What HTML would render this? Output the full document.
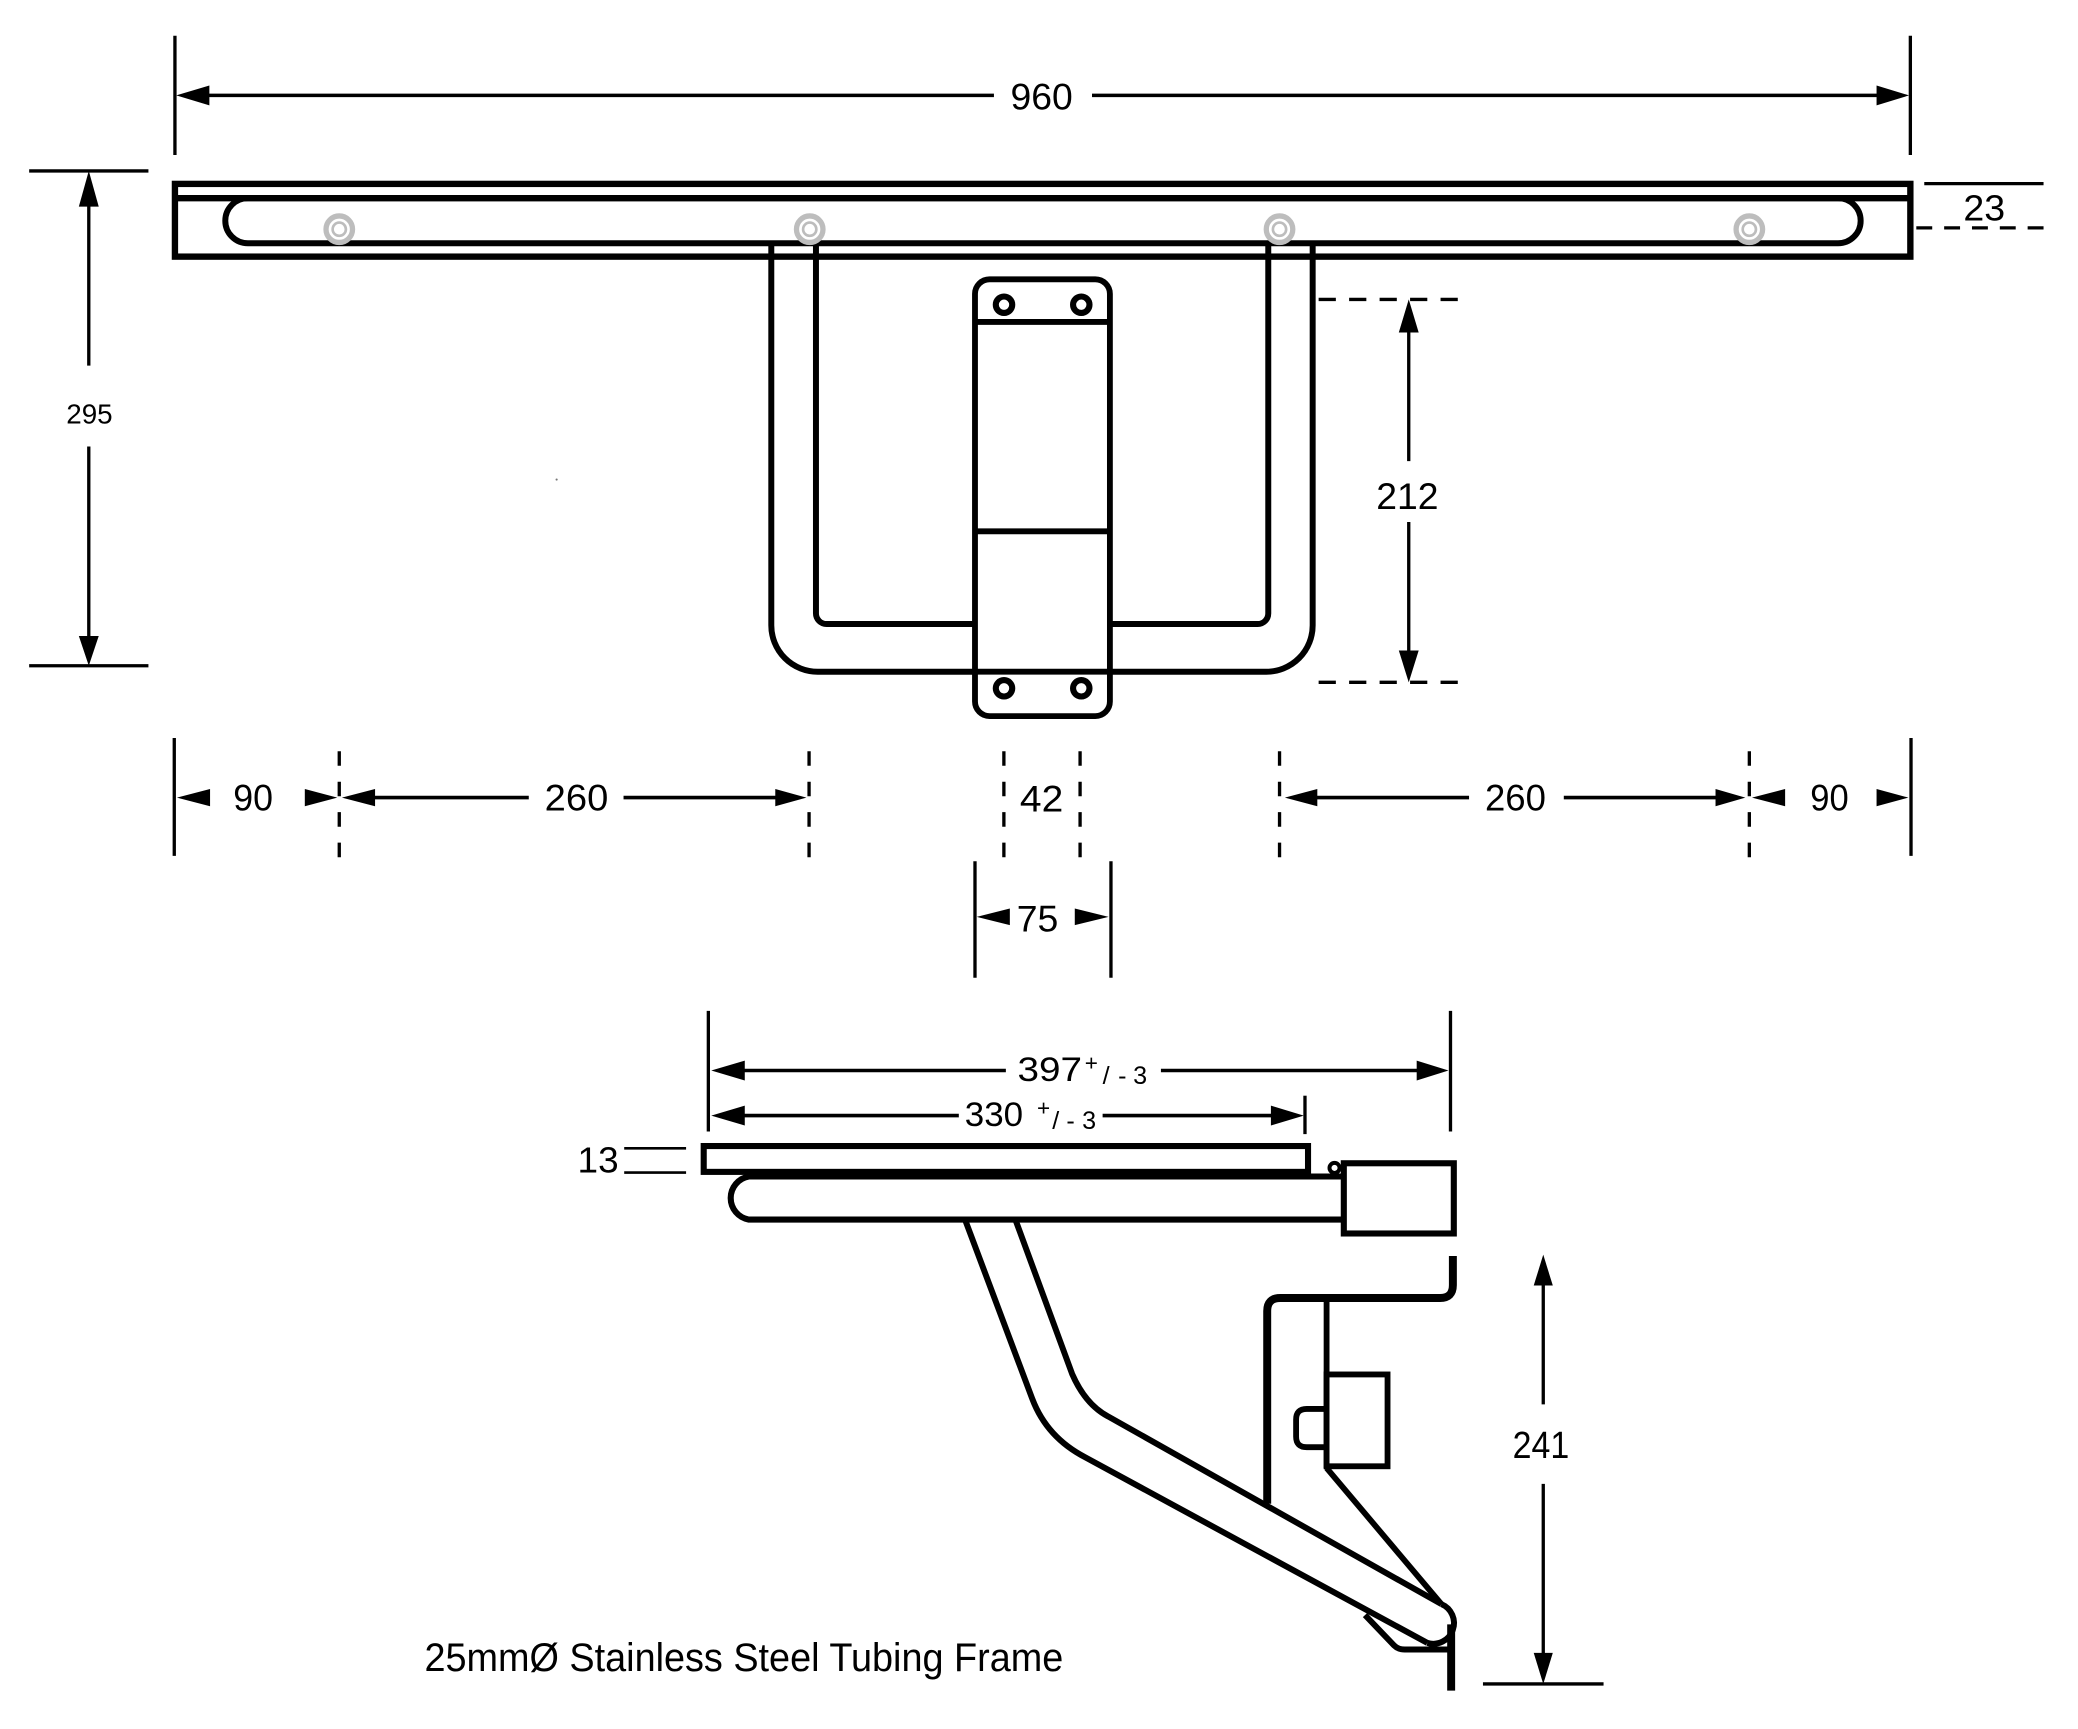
<!DOCTYPE html>
<html>
<head>
<meta charset="utf-8">
<style>
  html, body { margin: 0; padding: 0; background: #fff; }
  svg { display: block; }
  text { font-family: "Liberation Sans", sans-serif; fill: #000; }
</style>
</head>
<body>
<svg width="2078" height="1729" viewBox="0 0 1568 1305" preserveAspectRatio="none" xmlns="http://www.w3.org/2000/svg">
<rect x="0" y="0" width="1568" height="1305" fill="#fff"/>

<!-- ================= TOP VIEW ================= -->
<g stroke="#000" fill="none" stroke-linecap="butt">
  <!-- 960 dimension -->
  <line x1="132" y1="27" x2="132" y2="117" stroke-width="2.5"/>
  <line x1="1441.5" y1="27" x2="1441.5" y2="117" stroke-width="2.5"/>
  <line x1="150" y1="72" x2="750" y2="72" stroke-width="2.7"/>
  <line x1="824" y1="72" x2="1425" y2="72" stroke-width="2.7"/>

  <!-- 295 dimension -->
  <line x1="22" y1="129" x2="112" y2="129" stroke-width="2.5"/>
  <line x1="22" y1="502.5" x2="112" y2="502.5" stroke-width="2.5"/>
  <line x1="67" y1="150" x2="67" y2="276" stroke-width="2.5"/>
  <line x1="67" y1="337" x2="67" y2="485" stroke-width="2.5"/>

  <!-- Bar -->
  <rect x="132" y="138.8" width="1309.5" height="54.9" stroke-width="4.8"/>
  <line x1="132" y1="149.6" x2="1441.5" y2="149.6" stroke-width="4.8"/>
  <rect x="170" y="149.6" width="1234" height="34" rx="17" ry="17" stroke-width="4.5"/>

  <!-- U frame -->
  <path d="M582,183.5 V472 A35,35 0 0 0 617,507 H736" stroke-width="4.5"/>
  <path d="M990.5,183.5 V472 A35,35 0 0 1 955.5,507 H837" stroke-width="4.5"/>
  <path d="M615.7,183.5 V463 A8,8 0 0 0 623.7,471 H736" stroke-width="4.5"/>
  <path d="M957,183.5 V463 A8,8 0 0 1 949,471 H837" stroke-width="4.5"/>

  <!-- Plate -->
  <rect x="735.7" y="210.8" width="101.8" height="329.7" rx="11" ry="11" stroke-width="4.4" fill="#fff"/>
  <line x1="735.7" y1="243" x2="837.5" y2="243" stroke-width="4.4"/>
  <line x1="735.7" y1="401" x2="837.5" y2="401" stroke-width="4.4"/>
  <line x1="735.7" y1="507" x2="837.5" y2="507" stroke-width="4.4"/>
  <circle cx="757.6" cy="230" r="6.2" stroke-width="4.6"/>
  <circle cx="815.9" cy="230" r="6.2" stroke-width="4.6"/>
  <circle cx="757.6" cy="519.5" r="6.2" stroke-width="4.6"/>
  <circle cx="815.9" cy="519.5" r="6.2" stroke-width="4.6"/>

  <!-- 23 dimension -->
  <line x1="1452" y1="138.6" x2="1542" y2="138.6" stroke-width="2.5"/>
  <line x1="1446" y1="172" x2="1542" y2="172" stroke-width="2.5" stroke-dasharray="12 9"/>

  <!-- 212 dimension -->
  <line x1="995" y1="226" x2="1109" y2="226" stroke-width="2.5" stroke-dasharray="13 10"/>
  <line x1="995" y1="515" x2="1109" y2="515" stroke-width="2.5" stroke-dasharray="13 10"/>
  <line x1="1063" y1="245" x2="1063" y2="348" stroke-width="2.5"/>
  <line x1="1063" y1="394" x2="1063" y2="496" stroke-width="2.5"/>

  <!-- Row dimension line extension lines -->
  <line x1="131.5" y1="557" x2="131.5" y2="646" stroke-width="2.5"/>
  <line x1="1442" y1="557" x2="1442" y2="646" stroke-width="2.5"/>
  <g stroke-width="2.5" stroke-dasharray="11 12">
    <line x1="256" y1="567" x2="256" y2="647"/>
    <line x1="610.5" y1="567" x2="610.5" y2="647"/>
    <line x1="757.5" y1="567" x2="757.5" y2="647"/>
    <line x1="815" y1="567" x2="815" y2="647"/>
    <line x1="965.5" y1="567" x2="965.5" y2="647"/>
    <line x1="1320" y1="567" x2="1320" y2="647"/>
  </g>
  <line x1="275" y1="602" x2="399" y2="602" stroke-width="2.7"/>
  <line x1="470.5" y1="602" x2="592" y2="602" stroke-width="2.7"/>
  <line x1="986" y1="602" x2="1108.5" y2="602" stroke-width="2.7"/>
  <line x1="1180" y1="602" x2="1300" y2="602" stroke-width="2.7"/>

  <!-- 75 -->
  <line x1="735.7" y1="650" x2="735.7" y2="738" stroke-width="2.5"/>
  <line x1="838.3" y1="650" x2="838.3" y2="738" stroke-width="2.5"/>
</g>

<!-- screws -->
<g fill="#fff" stroke="#bdbdbd">
  <circle cx="256" cy="173" r="10" stroke-width="4"/>
  <circle cx="256" cy="173" r="5" stroke-width="2"/>
  <circle cx="611" cy="173" r="10" stroke-width="4"/>
  <circle cx="611" cy="173" r="5" stroke-width="2"/>
  <circle cx="965.5" cy="173" r="10" stroke-width="4"/>
  <circle cx="965.5" cy="173" r="5" stroke-width="2"/>
  <circle cx="1320" cy="173" r="10" stroke-width="4"/>
  <circle cx="1320" cy="173" r="5" stroke-width="2"/>
</g>
<circle cx="420" cy="362" r="0.8" fill="#777"/>

<!-- arrowheads top view -->
<g fill="#000" stroke="none">
  <polygon points="133,72 158,64.5 158,79.5"/>
  <polygon points="1440.5,72 1416,64.5 1416,79.5"/>
  <polygon points="67,129 59.5,156 74.5,156"/>
  <polygon points="67,502.5 59.5,480 74.5,480"/>
  <polygon points="1063,226 1055.5,251 1070.5,251"/>
  <polygon points="1063,515 1055.5,491 1070.5,491"/>
  <!-- row -->
  <polygon points="133.5,602 158.5,595.5 158.5,608.5"/>
  <polygon points="254.5,602 230,595.5 230,608.5"/>
  <polygon points="258,602 283,595.5 283,608.5"/>
  <polygon points="608.5,602 585,595.5 585,608.5"/>
  <polygon points="969.5,602 994,595.5 994,608.5"/>
  <polygon points="1317,602 1294.5,595.5 1294.5,608.5"/>
  <polygon points="1322,602 1347,595.5 1347,608.5"/>
  <polygon points="1440,602 1416,595.5 1416,608.5"/>
  <polygon points="737,692 762,685.7 762,698.3"/>
  <polygon points="836.5,692 811,685.7 811,698.3"/>
</g>

<!-- top view labels -->
<text x="762.5" y="82.5" font-size="28" textLength="47" lengthAdjust="spacingAndGlyphs">960</text>
<text x="50" y="319.5" font-size="21" textLength="35" lengthAdjust="spacingAndGlyphs">295</text>
<text x="1481.5" y="166.3" font-size="27" textLength="31.5" lengthAdjust="spacingAndGlyphs">23</text>
<text x="1038.5" y="384" font-size="28" textLength="47" lengthAdjust="spacingAndGlyphs">212</text>
<text x="176" y="611.7" font-size="28" textLength="30" lengthAdjust="spacingAndGlyphs">90</text>
<text x="411" y="611.7" font-size="28" textLength="48" lengthAdjust="spacingAndGlyphs">260</text>
<text x="769.6" y="612.4" font-size="28" textLength="32.7" lengthAdjust="spacingAndGlyphs">42</text>
<text x="1120.5" y="611.7" font-size="28" textLength="46" lengthAdjust="spacingAndGlyphs">260</text>
<text x="1366" y="611.7" font-size="28" textLength="29" lengthAdjust="spacingAndGlyphs">90</text>
<text x="767.2" y="703" font-size="28" textLength="31.4" lengthAdjust="spacingAndGlyphs">75</text>

<!-- ================= SIDE VIEW ================= -->
<g stroke="#000" fill="none">
  <!-- 397 / 330 dims -->
  <line x1="534.5" y1="763" x2="534.5" y2="854" stroke-width="2.5"/>
  <line x1="1094.5" y1="763" x2="1094.5" y2="854" stroke-width="2.5"/>
  <line x1="984.7" y1="827" x2="984.7" y2="856" stroke-width="2.5"/>
  <line x1="555" y1="808" x2="759" y2="808" stroke-width="2.7"/>
  <line x1="876" y1="808" x2="1072" y2="808" stroke-width="2.7"/>
  <line x1="555" y1="842" x2="723.5" y2="842" stroke-width="2.7"/>
  <line x1="832" y1="842" x2="962" y2="842" stroke-width="2.7"/>

  <!-- 13 -->
  <line x1="471" y1="866.7" x2="517.7" y2="866.7" stroke-width="2"/>
  <line x1="471" y1="885" x2="517.7" y2="885" stroke-width="2"/>

  <!-- plank -->
  <rect x="531" y="865" width="456" height="19.5" stroke-width="4.6"/>
  <!-- tube -->
  <path d="M1014,888 H565 A16.5,16.5 0 0 0 565,920.5 H1014" stroke-width="4.6"/>
  <circle cx="1007" cy="881.5" r="3.8" stroke-width="3"/>
  <!-- block -->
  <rect x="1014" y="878" width="83" height="53" stroke-width="4.6" fill="#fff"/>

  <!-- diagonal tube -->
  <path d="M728,920 L779,1056 Q790,1085 819,1100 L1077,1240" stroke-width="4.5"/>
  <path d="M766,920 L809,1037 Q819,1060 836,1069 L1087.6,1210.7" stroke-width="4.5"/>
  <path d="M1087.6,1210.7 A15.6,15.6 0 0 1 1077,1240" stroke-width="4.5"/>

  <!-- wall bracket -->
  <path d="M1096.3,948 V970 Q1096.3,979.7 1086.6,979.7 H966 Q956.2,979.7 956.2,989.5 V1135" stroke-width="6"/>
  <line x1="1001" y1="982" x2="1001" y2="1108" stroke-width="4.4"/>
  <line x1="1001" y1="1108" x2="1087.6" y2="1210.7" stroke-width="4.4"/>
  <rect x="1001" y="1037.4" width="46" height="69.3" stroke-width="4.4"/>
  <path d="M1001,1063.4 H986 Q978,1063.4 978,1071.4 V1084.3 Q978,1092.3 986,1092.3 H1001" stroke-width="4.4"/>
  <line x1="1095" y1="1226" x2="1095" y2="1276" stroke-width="6"/>
  <path d="M1030,1219 L1052,1242 Q1055,1245 1060,1245 H1095" stroke-width="4.5"/>

  <!-- 241 -->
  <line x1="1164.5" y1="965" x2="1164.5" y2="1060" stroke-width="2.5"/>
  <line x1="1164.5" y1="1120" x2="1164.5" y2="1252" stroke-width="2.5"/>
  <line x1="1119" y1="1271" x2="1210" y2="1271" stroke-width="2.5"/>
</g>

<g fill="#000" stroke="none">
  <polygon points="536.7,808 562,800.5 562,815.5"/>
  <polygon points="1093,808 1069,800.5 1069,815.5"/>
  <polygon points="536.7,842 562,834.5 562,849.5"/>
  <polygon points="983.8,842 959,834.5 959,849.5"/>
  <polygon points="1164.5,947 1157.3,970.3 1171.7,970.3"/>
  <polygon points="1164.5,1271 1157.3,1247.5 1171.7,1247.5"/>
</g>

<!-- side view labels -->
<text x="767.8" y="816" font-size="26" textLength="48.7" lengthAdjust="spacingAndGlyphs">397</text>
<text x="818.5" y="808" font-size="17">+</text>
<text x="832" y="818" font-size="19" textLength="18" lengthAdjust="spacing">/-</text>
<text x="855" y="818" font-size="19">3</text>

<text x="728" y="850" font-size="26" textLength="44" lengthAdjust="spacingAndGlyphs">330</text>
<text x="782.5" y="842" font-size="17">+</text>
<text x="794" y="852" font-size="19" textLength="17" lengthAdjust="spacing">/-</text>
<text x="816.5" y="852" font-size="19">3</text>

<text x="435.8" y="885" font-size="27" textLength="31" lengthAdjust="spacingAndGlyphs">13</text>
<text x="1141.4" y="1100.4" font-size="29" textLength="42.7" lengthAdjust="spacingAndGlyphs">241</text>

<text x="320.3" y="1261.4" font-size="30" textLength="482" lengthAdjust="spacingAndGlyphs">25mmØ Stainless Steel Tubing Frame</text>
</svg>
</body>
</html>
